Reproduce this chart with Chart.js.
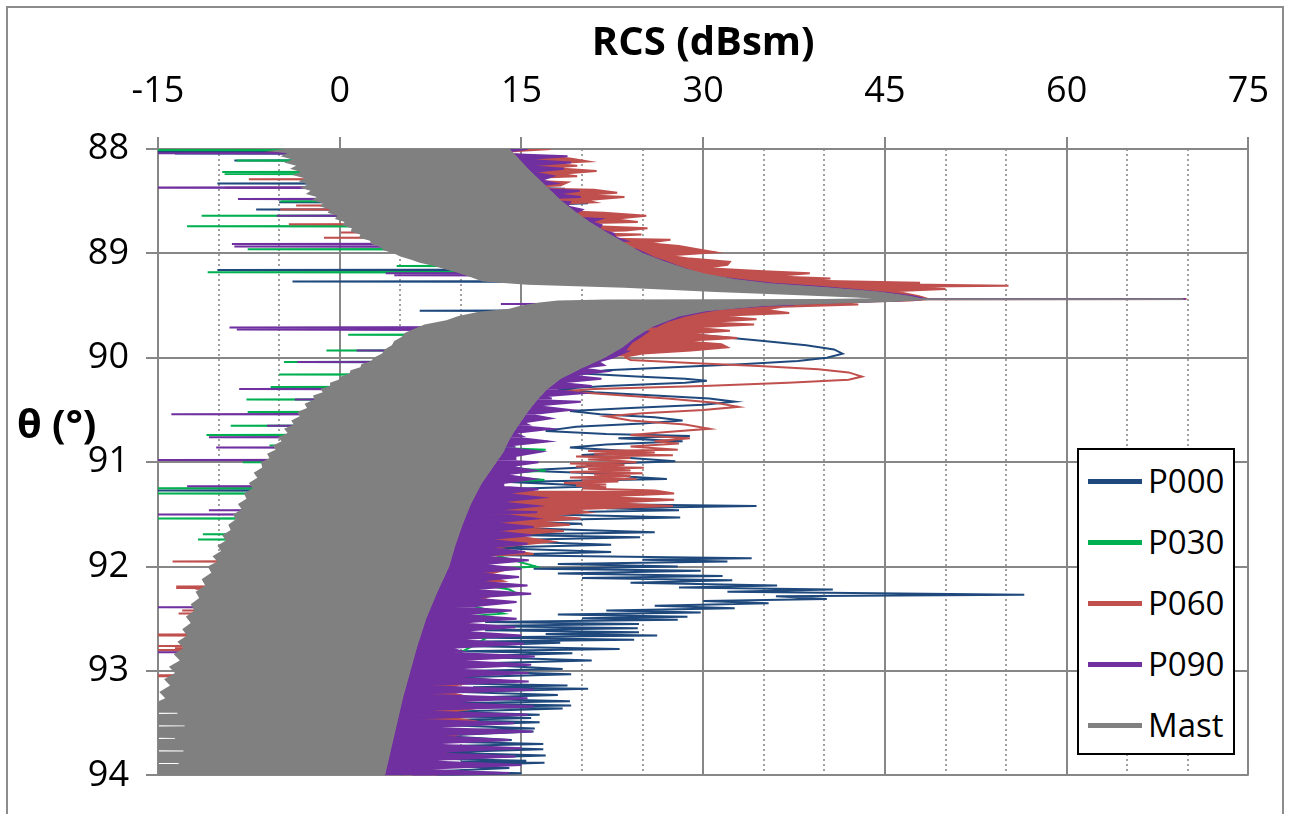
<!DOCTYPE html>
<html>
<head>
<meta charset="utf-8">
<script src="https://cdn.jsdelivr.net/npm/chart.js@4.4.1/dist/chart.umd.min.js"></script>
<style>
  html, body { margin: 0; padding: 0; background: #fff; }
  #wrap { position: relative; width: 1293px; height: 814px; overflow: hidden; font-family: 'Open Sans', sans-serif; color: #000; }
  #frame { position: absolute; left: 6px; top: 6px; width: 1278px; height: 840px; border: 2px solid #8c8c8c; box-sizing: border-box; }
  #chartBox { position: absolute; left: 0; top: 0; width: 1293px; height: 814px; }
  #ytitle { position: absolute; left: 17px; top: 399px; font-weight: bold; font-size: 40px; line-height: 48px; white-space: nowrap; }
  #legend { position: absolute; left: 1077px; top: 448px; width: 158px; height: 307px; border: 2px solid #000; background: #fff; box-sizing: border-box; }
  .item { position: absolute; left: 9px; height: 48px; display: flex; align-items: center; }
  .swatch { width: 54px; height: 5px; margin-right: 6px; }
  .item span { font-size: 33px; line-height: 48px; }
</style>
</head>
<body>
<div id="wrap">
  <div id="frame"></div>
  <div id="chartBox"><canvas id="chart"></canvas></div>
  <div id="ytitle">θ (°)</div>
  <div id="legend"></div>
</div>
<script>
const seriesNames = ['P000', 'P030', 'P060', 'P090', 'Mast'];
const rcsTicks = [-15, 0, 15, 30, 45, 60, 75];
const thetaTicks = [88, 89, 90, 91, 92, 93, 94];

// every series: [theta (deg), RCS (dBsm)]
const p000 = [
  [88.00,12.0],[88.025,12.0],[88.03,-15.5],[88.035,12.0],[88.043,-13.6],[88.048,12.0],[88.105,12.5],[88.11,-8.7],[88.115,12.5],
  [88.20,14.0],[88.325,14.5],[88.33,-10.1],[88.335,14.5],[88.37,15.5],[88.38,18.6],[88.40,15.5],[88.44,16.5],[88.45,20.5],[88.47,16.5],
  [88.505,16.5],[88.51,-5.0],[88.515,17.0],[88.52,20.5],[88.535,17.0],[88.575,17.5],[88.58,-6.9],[88.585,17.5],[88.70,19.0],[88.89,22.0],
  [88.91,26.2],[88.93,22.0],[89.10,25.0],[89.155,24.0],[89.16,-10.1],[89.165,24.0],[89.265,28.0],[89.27,-3.9],[89.275,28.0],[89.30,26.0],
  [89.35,33.0],[89.40,42.0],[89.44,46.0],[89.47,35.0],[89.50,25.0],[89.545,22.0],[89.55,6.6],[89.555,22.0],[89.62,24.0],[89.70,24.5],
  [89.74,26.0],[89.77,28.5],[89.80,31.5],[89.84,35.0],[89.88,38.5],[89.92,40.8],[89.96,41.5],[90.00,40.2],[90.03,37.8],[90.06,33.5],
  [90.09,27.5],[90.12,22.0],[90.15,20.0],[90.18,24.5],[90.20,28.5],[90.22,30.3],[90.24,28.5],[90.27,22.0],[90.30,18.0],[90.33,21.0],
  [90.36,26.0],[90.39,30.5],[90.42,32.6],[90.45,30.0],[90.48,24.0],[90.51,19.0],[90.54,21.5],[90.57,26.0],[90.60,28.3],[90.63,25.0],
  [90.66,19.5],[90.70,17.0],[90.73,22.0],[90.75,28.9],[90.77,23.0],[90.80,28.3],[90.83,22.0],[90.86,19.0],[90.90,24.8],[90.93,20.0],
  [90.96,24.0],[90.99,27.7],[91.02,21.0],[91.05,20.0],[91.08,15.0],[91.11,22.0],[91.14,24.0],[91.16,27.0],[91.19,14.0],[91.23,21.5],
  [91.26,13.0],[91.265,5.0],[91.27,-15.5],[91.275,5.0],[91.30,25.6],[91.33,14.0],[91.36,26.6],[91.39,13.0],[91.42,34.4],[91.44,22.0],
  [91.46,28.0],[91.49,13.0],[91.53,28.1],[91.56,13.0],[91.59,20.0],[91.62,12.0],[91.67,26.0],[91.695,13.0],[91.72,24.8],[91.75,12.0],
  [91.79,22.4],[91.82,12.0],[91.86,22.4],[91.89,12.0],[91.92,34.0],[91.935,25.0],[91.95,32.0],[91.975,18.0],[92.00,27.9],[92.02,16.0],
  [92.04,29.8],[92.065,18.0],[92.09,31.6],[92.11,20.0],[92.13,32.4],[92.155,24.0],[92.18,36.1],[92.20,28.0],[92.22,40.7],[92.24,32.0],
  [92.27,56.5],[92.285,36.0],[92.31,40.2],[92.33,30.0],[92.35,35.4],[92.375,26.0],[92.40,32.6],[92.42,22.0],[92.44,29.8],[92.46,18.0],
  [92.48,28.7],[92.495,20.0],[92.51,27.9],[92.53,12.0],[92.55,24.7],[92.57,11.0],[92.59,24.6],[92.61,12.0],[92.63,24.7],[92.645,17.0],
  [92.66,26.2],[92.68,11.0],[92.70,24.3],[92.72,10.0],[92.73,18.2],[92.76,10.0],[92.79,23.1],[92.81,10.0],[92.83,19.2],[92.86,10.0],
  [92.90,20.8],[92.93,10.0],[92.98,18.4],[93.00,10.0],[93.03,19.1],[93.06,10.0],[93.10,14.0],[93.12,10.0],[93.14,18.8],[93.155,11.0],
  [93.17,20.5],[93.20,10.0],[93.23,18.0],[93.26,9.0],[93.29,19.0],[93.31,9.0],[93.33,19.1],[93.345,11.0],[93.36,18.4],[93.39,9.0],
  [93.42,16.5],[93.435,10.0],[93.45,15.8],[93.47,9.0],[93.49,16.5],[93.52,9.0],[93.55,16.1],[93.565,10.0],[93.58,16.0],[93.62,8.0],
  [93.66,14.2],[93.68,10.0],[93.70,16.8],[93.72,8.0],[93.75,16.8],[93.78,8.0],[93.81,17.0],[93.84,8.0],[93.86,15.4],[93.87,10.0],
  [93.88,16.9],[93.91,8.0],[93.93,14.0],[93.96,8.0],[93.98,15.0],[94.00,8.0]
];
const p030 = [
  [88.00,12.0],[88.005,-15.5],[88.01,-15.5],[88.015,12.0],[88.105,12.5],[88.11,-8.5],[88.115,12.5],[88.215,13.0],[88.22,-9.7],[88.225,13.0],
  [88.235,13.0],[88.24,-9.5],[88.245,13.0],[88.495,16.0],[88.50,-4.9],[88.505,16.0],[88.635,17.0],[88.64,-11.4],[88.645,17.0],[88.735,18.0],
  [88.74,-12.6],[88.745,18.0],[88.90,22.0],[88.92,24.4],[88.94,21.0],[88.955,21.0],[88.96,-7.6],[88.965,21.0],[89.115,24.0],[89.12,4.7],
  [89.125,24.0],[89.175,26.0],[89.18,-10.9],[89.185,26.0],[89.30,30.0],[89.36,38.0],[89.41,44.0],[89.44,46.5],[89.47,36.0],[89.50,25.0],
  [89.55,18.0],[89.60,17.0],[89.70,15.0],[89.775,15.0],[89.78,0.7],[89.785,15.0],[89.925,15.0],[89.93,-1.1],[89.935,15.0],[90.035,14.0],
  [90.04,-4.6],[90.045,14.0],[90.155,13.0],[90.16,-5.0],[90.165,14.0],[90.20,21.0],[90.22,15.0],[90.275,12.0],[90.28,-5.7],[90.285,12.0],
  [90.395,11.0],[90.40,-7.7],[90.405,11.0],[90.515,10.0],[90.52,-7.6],[90.525,10.0],[90.645,9.0],[90.65,-9.0],[90.655,9.0],[90.735,9.0],
  [90.74,-11.0],[90.745,9.0],[90.835,9.0],[90.84,-5.8],[90.845,9.0],[90.88,17.0],[90.92,12.0],[90.995,8.0],[91.00,-8.0],[91.005,8.0],
  [91.08,17.0],[91.12,12.0],[91.17,16.9],[91.20,10.0],[91.245,6.0],[91.25,-15.5],[91.255,6.0],[91.295,6.0],[91.30,-15.5],[91.305,6.0],
  [91.49,13.5],[91.535,4.0],[91.54,-15.5],[91.545,4.0],[91.685,3.0],[91.69,-11.3],[91.695,3.0],[91.735,3.0],[91.74,-11.7],[91.745,3.0],
  [91.83,11.0],[92.00,16.2],[92.04,10.0],[92.08,12.5],[92.12,9.0],[92.22,14.0],[92.25,14.5],[92.28,12.0],[92.35,10.0],[92.45,13.5],
  [92.50,8.0],[92.69,12.0],[92.76,11.0],[93.00,7.0],[93.34,8.5],[93.54,8.0],[93.75,6.5],[94.00,5.0]
];
const p060 = [
  [88.00,17.4],[88.03,13.0],[88.035,-6.1],[88.04,13.0],[88.06,15.5],[88.09,19.0],[88.12,20.5],[88.14,17.0],[88.16,19.6],[88.18,17.2],
  [88.21,21.2],[88.24,18.0],[88.26,19.6],[88.285,14.0],[88.29,-7.5],[88.295,14.0],[88.32,18.8],[88.35,18.2],[88.365,15.0],[88.37,-9.5],
  [88.375,15.0],[88.39,21.0],[88.42,22.9],[88.44,20.0],[88.46,23.5],[88.49,20.2],[88.51,21.0],[88.535,16.0],[88.54,-3.6],[88.545,16.0],
  [88.575,16.0],[88.58,-4.9],[88.585,16.0],[88.61,21.8],[88.64,25.3],[88.67,22.5],[88.70,24.6],[88.715,18.0],[88.72,-4.2],[88.725,18.0],
  [88.76,25.4],[88.78,23.6],[88.795,19.0],[88.80,0.1],[88.805,19.0],[88.82,24.9],[88.845,20.0],[88.85,-1.3],[88.855,20.0],[88.87,27.3],
  [88.90,25.2],[88.93,28.0],[88.96,29.5],[88.99,31.0],[89.02,27.0],[89.05,28.9],[89.08,32.2],[89.11,32.0],[89.14,30.0],[89.17,35.0],
  [89.19,38.8],[89.22,35.5],[89.24,40.5],[89.26,38.0],[89.28,47.9],[89.29,42.0],[89.31,55.2],[89.32,46.0],[89.34,50.0],[89.36,46.0],
  [89.38,46.5],[89.41,47.8],[89.434,48.5],[89.4365,69.9],[89.439,48.5],[89.45,47.0],[89.47,40.5],[89.49,42.8],[89.51,36.5],[89.54,35.0],
  [89.57,37.1],[89.60,31.0],[89.63,34.4],[89.66,30.0],[89.68,34.2],[89.71,29.0],[89.74,32.2],[89.77,28.5],[89.81,32.8],[89.84,28.0],
  [89.87,31.5],[89.90,32.0],[89.93,29.0],[89.96,25.0],[89.99,23.5],[90.02,24.0],[90.05,29.0],[90.08,35.0],[90.11,39.5],[90.14,42.0],
  [90.18,43.1],[90.21,42.0],[90.24,37.0],[90.27,30.0],[90.30,21.0],[90.32,18.5],[90.35,22.0],[90.39,27.0],[90.43,31.0],[90.47,32.9],
  [90.50,30.0],[90.53,25.0],[90.56,22.0],[90.60,24.0],[90.64,28.5],[90.68,30.5],[90.71,27.0],[90.74,24.0],[90.77,28.9],[90.80,26.0],
  [90.82,28.0],[90.85,24.0],[90.88,27.9],[90.893,20.5],[90.906,26.0],[90.92,21.0],[90.933,27.5],[90.946,19.5],[90.96,24.0],[90.973,20.5],
  [90.986,23.0],[91.00,24.5],[91.013,19.0],[91.026,23.5],[91.04,19.5],[91.053,25.1],[91.066,20.5],[91.08,24.0],[91.093,19.0],[91.106,25.0],
  [91.12,21.0],[91.133,24.0],[91.146,19.0],[91.16,24.5],[91.173,20.0],[91.186,23.0],[91.20,18.5],[91.213,22.0],[91.226,19.5],[91.24,22.0],
  [91.253,20.0],[91.27,26.0],[91.30,27.6],[91.33,21.0],[91.36,27.6],[91.39,22.0],[91.42,27.5],[91.45,19.0],[91.48,20.5],[91.51,17.0],
  [91.54,19.9],[91.57,16.0],[91.60,19.0],[91.63,15.0],[91.66,18.5],[91.70,14.0],[91.76,17.5],[91.82,12.5],[91.88,16.0],[91.945,0.0],
  [91.95,-13.8],[91.955,0.0],[92.02,14.0],[92.08,12.0],[92.14,13.5],[92.185,0.0],[92.19,-13.5],[92.195,0.0],[92.205,-13.5],[92.21,0.0],
  [92.215,-11.9],[92.22,0.0],[92.30,12.0],[92.36,10.5],[92.415,-2.0],[92.42,-13.0],[92.425,-2.0],[92.445,-2.0],[92.45,-13.3],[92.455,-2.0],
  [92.52,11.0],[92.58,10.0],[92.645,-3.0],[92.65,-15.5],[92.655,-3.0],[92.66,-15.5],[92.665,-3.0],[92.755,-3.0],[92.76,-15.5],[92.765,-3.0],
  [92.775,-3.0],[92.78,-13.6],[92.785,-3.0],[92.795,-3.0],[92.80,-15.5],[92.805,-3.0],[92.86,10.0],[92.94,9.0],[93.035,-5.0],[93.04,-15.5],
  [93.045,-5.0],[93.05,-15.5],[93.055,-5.0],[93.12,10.3],[93.18,8.0],[93.24,10.3],[93.30,7.5],[93.36,11.0],[93.42,7.5],[93.48,11.1],
  [93.54,7.0],[93.62,9.5],[93.70,6.5],[93.80,9.0],[93.90,6.0],[94.00,8.0]
];
const p090 = [
  [88.00,15.5],[88.035,13.0],[88.04,-15.5],[88.045,13.0],[88.07,18.8],[88.10,14.8],[88.13,19.1],[88.16,15.2],[88.19,18.5],[88.22,15.8],
  [88.26,17.6],[88.30,16.6],[88.33,17.8],[88.365,15.0],[88.37,-15.5],[88.375,15.0],[88.40,19.8],[88.43,17.7],[88.46,19.9],[88.475,16.0],
  [88.48,-8.4],[88.485,16.0],[88.51,19.0],[88.55,18.8],[88.58,20.0],[88.61,19.5],[88.635,17.0],[88.64,-5.2],[88.645,17.0],[88.67,21.5],
  [88.70,20.7],[88.73,21.6],[88.77,21.4],[88.81,22.6],[88.85,22.8],[88.88,23.6],[88.905,20.0],[88.91,-8.9],[88.915,20.0],[88.93,20.0],
  [88.935,-8.7],[88.94,20.0],[88.96,24.4],[89.00,25.2],[89.04,25.9],[89.08,26.9],[89.12,27.8],[89.16,28.8],[89.185,22.0],[89.19,3.8],
  [89.195,22.0],[89.205,22.0],[89.21,4.5],[89.215,22.0],[89.23,31.4],[89.26,33.4],[89.29,35.8],[89.32,39.5],[89.35,42.5],[89.38,45.2],
  [89.41,47.3],[89.435,48.2],[89.4365,69.8],[89.4375,48.2],[89.452,46.0],[89.47,40.0],[89.48,38.0],[89.485,13.3],[89.49,37.5],[89.50,35.3],
  [89.53,31.5],[89.56,30.0],[89.60,28.4],[89.65,27.0],[89.70,26.1],[89.705,15.0],[89.71,-9.1],[89.715,15.0],[89.725,15.0],[89.73,-8.5],
  [89.735,15.0],[89.75,25.4],[89.80,24.8],[89.85,24.1],[89.92,23.6],[89.927,15.0],[89.93,1.4],[89.933,15.0],[89.94,23.7],[90.00,22.5],
  [90.03,21.5],[90.037,12.0],[90.04,-3.5],[90.043,12.0],[90.05,21.5],[90.07,21.8],[90.10,19.8],[90.13,21.9],[90.17,19.0],[90.20,21.6],
  [90.24,18.0],[90.27,20.8],[90.29,18.5],[90.297,8.0],[90.30,-8.3],[90.303,8.0],[90.31,18.0],[90.34,20.0],[90.37,16.6],[90.39,17.5],
  [90.397,8.0],[90.40,-3.7],[90.403,8.0],[90.41,17.0],[90.42,19.9],[90.46,16.0],[90.50,19.0],[90.53,16.5],[90.537,6.0],[90.54,-13.9],
  [90.543,6.0],[90.55,16.0],[90.58,17.4],[90.62,15.1],[90.64,15.5],[90.647,6.0],[90.65,-6.0],[90.653,6.0],[90.66,15.5],[90.68,17.4],
  [90.72,14.4],[90.75,15.0],[90.757,5.0],[90.76,-10.8],[90.763,5.0],[90.77,15.0],[90.80,17.2],[90.84,13.9],[90.85,14.5],[90.857,5.0],
  [90.86,-10.2],[90.863,5.0],[90.87,14.5],[90.90,16.6],[90.94,14.5],[90.97,14.5],[90.977,4.0],[90.98,-15.5],[90.983,4.0],[90.99,14.5],
  [91.00,16.4],[91.04,14.0],[91.08,16.1],[91.12,13.5],[91.16,16.0],[91.20,13.5],[91.22,13.5],[91.227,9.0],[91.23,-12.6],[91.233,9.0],
  [91.24,14.0],[91.26,16.4],[91.30,13.5],[91.34,16.6],[91.38,13.0],[91.42,16.2],[91.45,13.5],[91.457,9.0],[91.46,-10.8],[91.463,9.0],
  [91.47,14.0],[91.48,16.3],[91.49,14.0],[91.497,9.0],[91.50,-15.5],[91.503,9.0],[91.51,14.0],[91.54,16.1],[91.58,12.5],[91.62,16.0],
  [91.66,12.5],[91.70,15.8],[91.74,12.0],[91.78,15.5],[91.82,12.0],[91.86,15.3],[91.90,11.5],[91.94,15.6],[91.98,11.5],[92.02,15.0],
  [92.06,11.0],[92.10,14.8],[92.14,11.0],[92.18,15.5],[92.22,10.5],[92.26,15.8],[92.30,10.5],[92.34,14.6],[92.38,11.0],[92.387,6.0],
  [92.39,-15.5],[92.393,6.0],[92.40,11.0],[92.42,14.2],[92.46,10.0],[92.50,14.6],[92.54,9.5],[92.58,14.5],[92.62,9.5],[92.66,15.0],
  [92.70,9.0],[92.74,15.2],[92.78,9.0],[92.81,10.0],[92.817,5.0],[92.82,-15.5],[92.823,5.0],[92.83,10.0],[92.86,16.1],[92.90,9.0],
  [92.94,15.8],[92.98,8.5],[93.02,15.6],[93.06,8.5],[93.10,15.6],[93.14,5.6],[93.18,16.0],[93.22,5.5],[93.26,15.5],[93.30,8.0],
  [93.34,16.0],[93.38,5.0],[93.42,15.5],[93.46,5.0],[93.50,14.4],[93.54,7.0],[93.58,15.9],[93.62,7.0],[93.66,14.0],[93.70,6.5],
  [93.74,15.0],[93.78,6.5],[93.82,14.5],[93.86,6.0],[93.90,15.0],[93.94,6.0],[93.98,14.0],[94.00,6.0]
];
// the Mast trace is so dense it reads as a band: its right and left edges
const mastRight = [
  [88.00,14.0],[88.10,14.8],[88.20,15.6],[88.30,16.5],[88.40,17.4],[88.50,18.3],[88.60,19.4],[88.70,20.6],[88.80,22.0],[88.90,23.5],
  [89.00,25.0],[89.08,26.8],[89.15,28.6],[89.20,30.2],[89.25,32.6],[89.29,35.5],[89.33,40.3],[89.37,44.5],[89.41,47.0],[89.435,48.0],
  [89.4355,69.6],[89.4425,69.6],[89.444,48.0],[89.46,45.5],[89.48,39.5],[89.50,35.0],[89.55,30.2],[89.60,28.0],[89.70,25.8],[89.80,24.4],
  [89.90,23.3],[90.00,21.8],[90.10,19.9],[90.20,18.2],[90.30,17.1],[90.40,16.3],[90.50,15.6],[90.60,15.0],[90.70,14.4],[90.80,13.9],
  [90.90,13.5],[91.00,12.9],[91.20,11.7],[91.40,10.8],[91.60,10.1],[91.80,9.5],[92.00,9.0],[92.25,8.0],[92.50,7.1],[92.75,6.4],
  [93.00,5.8],[93.25,5.2],[93.50,4.7],[93.75,4.2],[94.00,3.7]
];
const mastLeft = [
  [88.00,-4.5],[88.02,-6.0],[88.04,-4.3],[88.07,-4.9],[88.10,-3.9],[88.13,-4.6],[88.16,-3.6],[88.19,-4.1],[88.22,-3.2],[88.25,-3.9],
  [88.28,-2.9],[88.31,-3.4],[88.34,-2.6],[88.37,-3.3],[88.40,-2.4],[88.43,-2.8],[88.46,-1.9],[88.49,-2.3],[88.52,-1.4],[88.55,-1.6],
  [88.58,-0.8],[88.61,-1.0],[88.64,-0.2],[88.67,-0.4],[88.70,0.4],[88.73,0.2],[88.76,1.0],[88.79,0.9],[88.82,1.7],[88.85,1.6],
  [88.88,2.5],[88.91,2.6],[88.94,3.4],[88.97,3.6],[89.00,4.5],[89.03,5.0],[89.06,5.9],[89.09,6.6],[89.12,7.8],[89.15,8.6],
  [89.18,9.6],[89.22,10.6],[89.27,11.8],[89.30,15.5],[89.33,23.5],[89.37,31.0],[89.40,38.0],[89.43,44.0],[89.436,40.0],[89.442,22.0],
  [89.45,18.0],[89.47,16.5],[89.50,15.0],[89.53,14.0],[89.56,11.5],[89.60,9.8],[89.64,8.8],[89.68,7.0],[89.72,6.2],[89.76,5.4],
  [89.80,5.1],[89.84,4.5],[89.88,4.3],[89.92,3.7],[89.96,3.5],[90.00,2.8],[90.03,2.6],[90.06,1.8],[90.09,1.7],[90.12,0.9],
  [90.15,0.8],[90.18,0.1],[90.21,-0.1],[90.24,-0.8],[90.27,-0.8],[90.30,-1.6],[90.33,-1.4],[90.36,-2.2],[90.40,-2.1],[90.44,-2.9],
  [90.48,-2.7],[90.52,-3.5],[90.56,-3.3],[90.60,-4.0],[90.64,-3.8],[90.68,-4.6],[90.72,-4.3],[90.76,-5.1],[90.80,-4.8],[90.84,-5.5],
  [90.88,-5.3],[90.92,-6.0],[90.96,-5.8],[91.00,-6.5],[91.05,-6.4],[91.10,-7.1],[91.15,-6.8],[91.20,-7.5],[91.25,-7.2],[91.30,-7.9],
  [91.35,-7.7],[91.40,-8.4],[91.45,-8.1],[91.50,-8.8],[91.55,-8.6],[91.60,-9.2],[91.65,-9.0],[91.70,-9.7],[91.75,-9.4],[91.80,-10.1],
  [91.85,-9.8],[91.90,-10.5],[91.95,-10.1],[92.00,-10.9],[92.06,-10.6],[92.12,-11.4],[92.18,-11.1],[92.24,-11.9],[92.30,-11.6],[92.36,-12.3],
  [92.42,-12.0],[92.48,-12.7],[92.54,-12.3],[92.60,-13.0],[92.66,-12.6],[92.72,-13.4],[92.78,-12.9],[92.84,-13.7],[92.90,-13.2],[92.96,-14.1],
  [93.02,-13.6],[93.08,-14.5],[93.14,-14.0],[93.20,-14.9],[93.26,-14.4],[93.32,-15.5],[93.40,-15.5],[93.401,-13.4],[93.41,-13.4],[93.411,-15.5],
  [93.52,-15.5],[93.521,-12.8],[93.53,-12.8],[93.531,-15.5],[93.64,-15.5],[93.641,-13.6],[93.65,-13.6],[93.651,-15.5],[93.76,-15.5],[93.761,-12.9],
  [93.77,-12.9],[93.771,-15.5],[93.88,-15.5],[93.881,-13.3],[93.89,-13.3],[93.891,-15.5],[94.00,-15.5]
];

const colors = ['#1F497D', '#00B050', '#C0504D', '#7030A0', '#808080'];
const gridColor = '#878787';
const MAST = 4;
// P060 lobes are open (no band) in this theta range
const p060Open = [89.98, 91.27];

const pts = arr => arr.map(p => ({ x: p[1], y: p[0] }));

Chart.defaults.font.family = "'Open Sans', sans-serif";
Chart.defaults.color = '#000';

const datasets = [
  { label: seriesNames[0], data: pts(p000), borderColor: colors[0], backgroundColor: colors[0], borderWidth: 2, fill: false, order: 5 },
  { label: seriesNames[1], data: pts(p030), borderColor: colors[1], backgroundColor: colors[1], borderWidth: 2, fill: false, order: 4 },
  { label: seriesNames[2], data: pts(p060), borderColor: colors[2], backgroundColor: colors[2], borderWidth: 2, fill: MAST, order: 3,
    segment: {
      backgroundColor: c => {
        const t = p060[c.p0DataIndex][0];
        return (t >= p060Open[0] && t < p060Open[1]) ? 'rgba(0,0,0,0)' : colors[2];
      }
    } },
  { label: seriesNames[3], data: pts(p090), borderColor: colors[3], backgroundColor: colors[3], borderWidth: 2, fill: MAST, order: 2 },
  { label: seriesNames[4], data: pts(mastRight), borderColor: colors[4], backgroundColor: colors[4], borderWidth: 1, fill: '+1', order: 1 },
  { label: 'Mast edge', data: pts(mastLeft), borderColor: 'rgba(0,0,0,0)', backgroundColor: colors[4], borderWidth: 1, fill: false, order: 0 }
];

const chart = new Chart(document.getElementById('chart'), {
  type: 'line',
  data: { datasets: datasets },
  options: {
    indexAxis: 'y',
    responsive: true,
    maintainAspectRatio: false,
    animation: false,
    events: [],
    layout: { padding: { left: 0, top: 0, right: 41, bottom: 31 } },
    elements: { point: { radius: 0, hoverRadius: 0 }, line: { tension: 0 } },
    plugins: { legend: { display: false }, tooltip: { enabled: false } },
    scales: {
      x: {
        type: 'linear', position: 'top', min: -15, max: 75,
        afterBuildTicks: s => { s.ticks = rcsTicks.map(v => ({ value: v })); },
        afterFit: s => { s.height = 149; },
        ticks: { font: { size: 36 }, color: '#000', padding: 24 },
        grid: { color: gridColor, lineWidth: 2, tickLength: 12, tickColor: gridColor },
        border: { color: gridColor, width: 2 },
        title: { display: true, text: 'RCS (dBsm)', font: { size: 40, weight: 'bold' }, color: '#000', padding: { top: 20, bottom: 0 } }
      },
      xMinor: {
        type: 'linear', position: 'top', min: -15, max: 75,
        afterFit: s => { s.height = 0; },
        ticks: { display: false, stepSize: 5 },
        grid: {
          drawTicks: false, lineWidth: 2, borderDash: [2, 3],
          color: c => (c.tick && c.tick.value % 15 === 0) ? 'rgba(0,0,0,0)' : '#a0a0a0'
        },
        border: { display: false, dash: [2, 3] }
      },
      y: {
        type: 'linear', position: 'left', reverse: true, min: 88, max: 94,
        afterBuildTicks: s => { s.ticks = thetaTicks.map(v => ({ value: v })); },
        afterFit: s => { s.width = 158; },
        ticks: { font: { size: 36 }, color: '#000', padding: 17 },
        grid: { color: gridColor, lineWidth: 2, tickLength: 12, tickColor: gridColor },
        border: { color: gridColor, width: 2 }
      }
    }
  }
});

// legend box drawn inside the plot, as in the original
const legend = document.getElementById('legend');
const rowTops = [7, 68, 129, 190, 251];
chart.data.datasets.slice(0, seriesNames.length).forEach((ds, i) => {
  const row = document.createElement('div');
  row.className = 'item';
  row.style.top = rowTops[i] + 'px';
  const sw = document.createElement('div');
  sw.className = 'swatch';
  sw.style.background = ds.borderColor;
  const txt = document.createElement('span');
  txt.textContent = ds.label;
  row.appendChild(sw);
  row.appendChild(txt);
  legend.appendChild(row);
});
</script>
</body>
</html>
